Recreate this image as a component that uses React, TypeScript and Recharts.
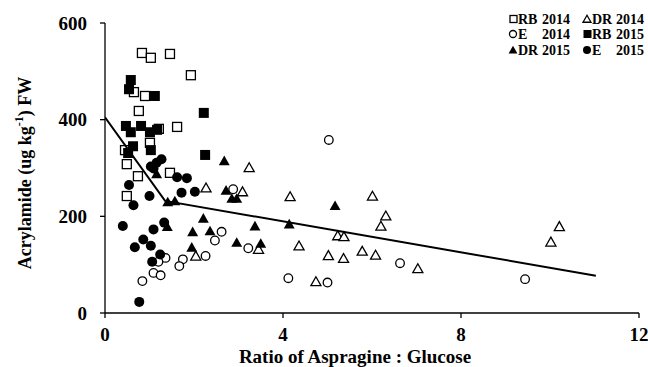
import React from 'react';
import { ScatterChart, Scatter, XAxis, YAxis } from 'recharts';

const rb2014 = [
  { x: 0.83, y: 538 }, { x: 1.03, y: 528 }, { x: 1.46, y: 536 }, { x: 1.93, y: 492 },
  { x: 0.65, y: 457 }, { x: 0.9, y: 449 }, { x: 0.76, y: 418 }, { x: 1.21, y: 381 },
  { x: 1.62, y: 385 }, { x: 0.45, y: 337 }, { x: 1.01, y: 352 }, { x: 0.49, y: 308 },
  { x: 0.74, y: 283 }, { x: 1.46, y: 290 }, { x: 0.49, y: 242 },
];
const dr2014 = [
  { x: 3.24, y: 301 }, { x: 3.09, y: 251 }, { x: 4.16, y: 241 }, { x: 6.01, y: 242 },
  { x: 6.31, y: 201 }, { x: 6.2, y: 180 }, { x: 5.23, y: 160 }, { x: 5.37, y: 158 },
  { x: 4.36, y: 139 }, { x: 3.45, y: 132 }, { x: 5.02, y: 119 }, { x: 5.36, y: 113 },
  { x: 5.78, y: 128 }, { x: 6.08, y: 120 }, { x: 7.03, y: 92 }, { x: 4.74, y: 65 },
  { x: 10.21, y: 179 }, { x: 10.02, y: 147 }, { x: 2.27, y: 259 }, { x: 2.04, y: 118 },
];
const e2014 = [
  { x: 5.03, y: 358 }, { x: 2.88, y: 256 }, { x: 2.62, y: 168 }, { x: 3.22, y: 134 },
  { x: 4.12, y: 72 }, { x: 5.0, y: 63 }, { x: 6.63, y: 103 }, { x: 9.44, y: 70 },
  { x: 2.47, y: 150 }, { x: 2.26, y: 118 }, { x: 1.75, y: 111 }, { x: 1.67, y: 97 },
  { x: 1.36, y: 114 }, { x: 1.2, y: 106 }, { x: 1.09, y: 83 }, { x: 1.25, y: 78 },
  { x: 0.84, y: 66 },
];
const rb2015 = [
  { x: 0.58, y: 482 }, { x: 0.54, y: 463 }, { x: 1.12, y: 449 }, { x: 2.22, y: 414 },
  { x: 0.47, y: 387 }, { x: 0.58, y: 374 }, { x: 0.81, y: 387 }, { x: 1.01, y: 374 },
  { x: 1.17, y: 379 }, { x: 0.63, y: 345 }, { x: 1.03, y: 337 }, { x: 0.52, y: 331 },
  { x: 2.25, y: 327 },
];
const dr2015 = [
  { x: 2.68, y: 315 }, { x: 2.72, y: 254 }, { x: 2.85, y: 237 }, { x: 2.96, y: 237 },
  { x: 5.17, y: 222 }, { x: 4.14, y: 184 }, { x: 3.37, y: 180 }, { x: 2.96, y: 146 },
  { x: 3.5, y: 144 }, { x: 1.16, y: 288 }, { x: 1.41, y: 230 }, { x: 1.57, y: 232 },
  { x: 2.21, y: 196 }, { x: 1.97, y: 168 }, { x: 2.36, y: 170 }, { x: 1.95, y: 136 },
  { x: 1.4, y: 179 },
];
const e2015 = [
  { x: 0.54, y: 265 }, { x: 0.64, y: 223 }, { x: 0.4, y: 180 }, { x: 1.0, y: 242 },
  { x: 1.09, y: 173 }, { x: 1.33, y: 187 }, { x: 0.86, y: 152 }, { x: 0.67, y: 136 },
  { x: 1.03, y: 139 }, { x: 1.24, y: 121 }, { x: 1.06, y: 106 }, { x: 0.77, y: 23 },
  { x: 1.72, y: 249 }, { x: 2.02, y: 251 }, { x: 1.62, y: 281 }, { x: 1.84, y: 279 },
  { x: 1.03, y: 303 }, { x: 1.16, y: 311 }, { x: 1.27, y: 318 }, { x: 1.09, y: 299 },
];
const trendLine = [
  { x: 0, y: 405 }, { x: 1.35, y: 232 }, { x: 11.03, y: 77 },
];
const xTicks = [0, 4, 8, 12];
const yTicks = [0, 200, 400, 600];

const FONT = 'Liberation Serif, Times New Roman, serif';
const txt = { fontFamily: FONT, fontWeight: 'bold' as const };

const OpenSquare = (p: any) => (
  <rect x={p.cx - 4.5} y={p.cy - 4.5} width={9} height={9} fill="#fff" stroke="#000" strokeWidth={1.3} />
);
const FilledSquare = (p: any) => (
  <rect x={p.cx - 5} y={p.cy - 5} width={10} height={10} fill="#000" />
);
const OpenCircle = (p: any) => (
  <circle cx={p.cx} cy={p.cy} r={4.3} fill="#fff" stroke="#000" strokeWidth={1.3} />
);
const FilledCircle = (p: any) => (
  <circle cx={p.cx} cy={p.cy} r={5} fill="#000" />
);
const tri = (cx: number, cy: number, s: number) =>
  `${cx},${cy - s} ${cx + s * 1.05},${cy + s * 0.85} ${cx - s * 1.05},${cy + s * 0.85}`;
const OpenTri = (p: any) => (
  <polygon points={tri(p.cx, p.cy, 4.8)} fill="#fff" stroke="#000" strokeWidth={1.3} />
);
const FilledTri = (p: any) => (
  <polygon points={tri(p.cx, p.cy, 5.2)} fill="#000" />
);
const NoDot = () => <g />;

const XTick = (p: any) => (
  <text x={p.x} y={p.y} dy="0.75em" textAnchor="middle" style={{ ...txt, fontSize: 19 }} fill="#000">
    {p.payload.value}
  </text>
);
const YTick = (p: any) => (
  <text x={p.x} y={p.y} dy="0.35em" textAnchor="end" style={{ ...txt, fontSize: 19 }} fill="#000">
    {p.payload.value}
  </text>
);

const YLabel = () => (
  <text
    x={25}
    y={173}
    transform="rotate(-90 25 173)"
    textAnchor="middle"
    dominantBaseline="central"
    style={{ ...txt, fontSize: 18 }}
    fill="#000"
  >
    Acrylamide (ug kg<tspan dy={-6} style={{ fontSize: 12 }}>-1</tspan>
    <tspan dy={6}>) FW</tspan>
  </text>
);

const XLabel = () => (
  <text
    x={355}
    y={356}
    textAnchor="middle"
    dominantBaseline="central"
    style={{ ...txt, fontSize: 19 }}
    fill="#000"
  >
    Ratio of Aspragine  : Glucose
  </text>
);

const legendItems = [
  { col: 0, row: 0, mark: 'osq', label: 'RB', year: '2014' },
  { col: 1, row: 0, mark: 'otri', label: 'DR', year: '2014' },
  { col: 0, row: 1, mark: 'ocirc', label: 'E', year: '2014' },
  { col: 1, row: 1, mark: 'fsq', label: 'RB', year: '2015' },
  { col: 0, row: 2, mark: 'ftri', label: 'DR', year: '2015' },
  { col: 1, row: 2, mark: 'fcirc', label: 'E', year: '2015' },
];

const Legend = () => {
  const colX = [513, 587];
  const rowY = [19, 34, 50];
  return (
    <svg width={648} height={70} style={{ position: 'absolute', left: 0, top: 0 }}>
      {legendItems.map((it, i) => {
        const mx = colX[it.col];
        const my = rowY[it.row];
        let m: any = null;
        if (it.mark === 'osq') m = <rect x={mx - 3} y={my - 3.5} width={7} height={7} fill="#fff" stroke="#000" strokeWidth={1.3} />;
        if (it.mark === 'fsq') m = <rect x={mx - 3.5} y={my - 4} width={8} height={8} fill="#000" />;
        if (it.mark === 'ocirc') m = <circle cx={mx} cy={my} r={3.5} fill="#fff" stroke="#000" strokeWidth={1.3} />;
        if (it.mark === 'fcirc') m = <circle cx={mx} cy={my} r={4} fill="#000" />;
        if (it.mark === 'otri') m = <polygon points={tri(mx, my, 3.8)} fill="#fff" stroke="#000" strokeWidth={1.3} />;
        if (it.mark === 'ftri') m = <polygon points={tri(mx, my, 4.2)} fill="#000" />;
        const ts = { ...txt, fontSize: 14 };
        return (
          <g key={i}>
            {m}
            <text x={mx + 5} y={my + 4.5} style={ts} fill="#000">
              {it.label}
            </text>
            <text x={mx + 29} y={my + 4.5} style={ts} fill="#000">
              {it.year}
            </text>
          </g>
        );
      })}
    </svg>
  );
};

export default function App() {
  return (
    <div style={{ position: 'relative', width: 648, height: 367 }}>
      <style>{'body{margin:0;}'}</style>
      <ScatterChart width={648} height={367} margin={{ top: 23, right: 9, bottom: 0, left: 0 }}>
        <XAxis
          type="number"
          dataKey="x"
          domain={[0, 12]}
          ticks={xTicks}
          height={54}
          tick={XTick}
          tickSize={5}
          tickMargin={9}
          axisLine={{ stroke: '#000', strokeWidth: 1.3 }}
          tickLine={{ stroke: '#000', strokeWidth: 1.3 }}
          allowDataOverflow
        />
        <YAxis
          type="number"
          dataKey="y"
          domain={[0, 600]}
          ticks={yTicks}
          width={105}
          tick={YTick}
          tickSize={5}
          tickMargin={13}
          axisLine={{ stroke: '#000', strokeWidth: 1.3 }}
          tickLine={{ stroke: '#000', strokeWidth: 1.3 }}
          allowDataOverflow
        />
        <Scatter data={rb2014} shape={OpenSquare} isAnimationActive={false} />
        <Scatter data={dr2014} shape={OpenTri} isAnimationActive={false} />
        <Scatter data={e2014} shape={OpenCircle} isAnimationActive={false} />
        <Scatter data={rb2015} shape={FilledSquare} isAnimationActive={false} />
        <Scatter data={dr2015} shape={FilledTri} isAnimationActive={false} />
        <Scatter data={e2015} shape={FilledCircle} isAnimationActive={false} />
        <Scatter
          data={trendLine}
          shape={NoDot}
          line={{ stroke: '#000', strokeWidth: 2 }}
          isAnimationActive={false}
        />
      </ScatterChart>
      <svg width={648} height={367} style={{ position: 'absolute', left: 0, top: 0, pointerEvents: 'none' }}>
        <YLabel />
        <XLabel />
      </svg>
      <Legend />
    </div>
  );
}
